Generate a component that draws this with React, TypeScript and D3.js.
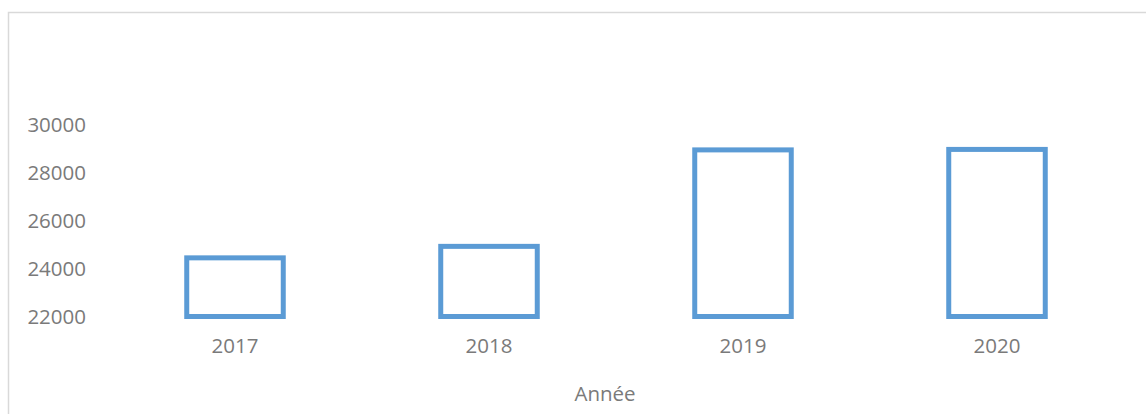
import React, { useEffect, useRef } from "react"
import * as d3 from "d3"

const years = ["2017", "2018", "2019", "2020"]
const values = [24450, 24930, 28960, 28980]
const yTicks = [22000, 24000, 26000, 28000, 30000]
const xTitle = "Année"

export default function App() {
    const ref = useRef<SVGSVGElement | null>(null)

    useEffect(() => {
        const svg = d3.select(ref.current)
        svg.selectAll("*").remove()

        const width = 1146
        const height = 414

        // chart frame (runs off right/bottom like the crop)
        svg.append("rect")
            .attr("x", 8.5)
            .attr("y", 12.5)
            .attr("width", width + 10)
            .attr("height", height + 10)
            .attr("fill", "#fff")
            .attr("stroke", "#d9d9d9")
            .attr("stroke-width", 1.5)

        const x = d3.scaleBand()
            .domain(years)
            .range([108, 1124])
            .paddingInner(0.62)
            .paddingOuter(0.31)

        const y = d3.scaleLinear()
            .domain([22000, 30000])
            .range([316.5, 125])

        const font = "'Open Sans', sans-serif"
        const grey = "#7a7a7a"

        const yAxis = d3.axisLeft(y)
            .tickValues(yTicks)
            .tickSize(0)
            .tickPadding(0)
            .tickFormat(d3.format("d"))

        const gy = svg.append("g")
            .attr("transform", "translate(86,0)")
            .call(yAxis)
        gy.select(".domain").remove()
        gy.selectAll("text")
            .style("font-family", font)
            .style("font-size", "20.5px")
            .attr("fill", grey)

        const xAxis = d3.axisBottom(x).tickSize(0).tickPadding(0)
        const gx = svg.append("g")
            .attr("transform", "translate(0,338)")
            .call(xAxis)
        gx.select(".domain").remove()
        gx.selectAll("text")
            .style("font-family", font)
            .style("font-size", "20.5px")
            .attr("fill", grey)

        svg.append("text")
            .attr("x", 605)
            .attr("y", 401)
            .attr("text-anchor", "middle")
            .style("font-family", font)
            .style("font-size", "20.5px")
            .attr("fill", grey)
            .text(xTitle)

        svg.selectAll(".bar")
            .data(values)
            .enter()
            .append("rect")
            .attr("class", "bar")
            .attr("x", (d, i) => x(years[i])!)
            .attr("width", x.bandwidth())
            .attr("y", d => y(d))
            .attr("height", d => y(22000) - y(d))
            .attr("fill", "none")
            .attr("stroke", "#5b9bd5")
            .attr("stroke-width", 5)
    }, [])

    return (
        <svg
            ref={ref}
            width={1146}
            height={414}
            style={{ position: "absolute", left: 0, top: 0, background: "#fff" }}
        />
    )
}
